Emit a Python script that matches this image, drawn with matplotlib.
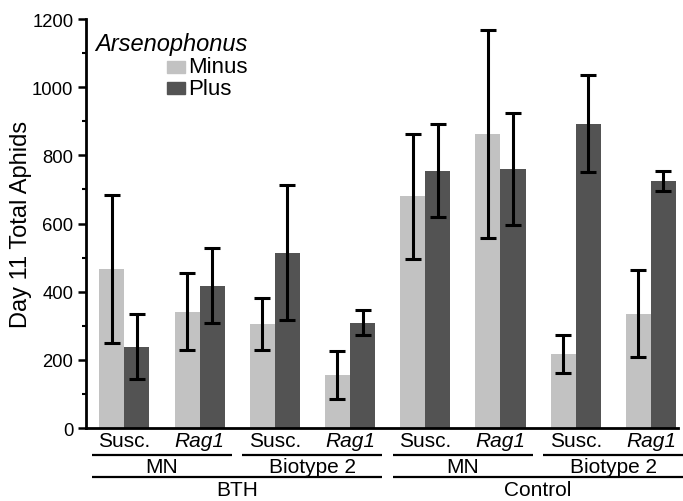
import numpy as np
import matplotlib
matplotlib.use("Agg")
import matplotlib.pyplot as plt
from matplotlib.patches import Rectangle
from matplotlib.ticker import MultipleLocator

# --- data: day-11 aphid counts (mean +/- SE) ---
genotypes = ["Susc.", "Rag1", "Susc.", "Rag1", "Susc.", "Rag1", "Susc.", "Rag1"]
biotypes = ["MN", "Biotype 2", "MN", "Biotype 2"]
treatments = ["BTH", "Control"]
series = ["Minus", "Plus"]
minus_mean = [467, 341, 305, 156, 680, 863, 216, 335]
minus_err = [217, 113, 77, 70, 184, 305, 56, 128]
plus_mean = [239, 418, 514, 309, 755, 761, 893, 724]
plus_err = [95, 110, 198, 37, 136, 164, 143, 30]

C_MINUS, C_PLUS = "#c2c2c2", "#535353"

plt.rcParams.update({"font.family": ["Liberation Sans", "DejaVu Sans"],
                     "font.size": 15})

fig = plt.figure(figsize=(6.83, 5.02), dpi=100)
ax = fig.add_axes([0.1259, 0.1454, 0.8668, 0.8147])

x = np.arange(len(genotypes))
w = 1 / 3
ebar = dict(ecolor="black", elinewidth=2.2, capsize=6, capthick=2.2)
ax.bar(x - w / 2, minus_mean, w, yerr=minus_err, color=C_MINUS,
       error_kw=ebar, zorder=2)
ax.bar(x + w / 2, plus_mean, w, yerr=plus_err, color=C_PLUS,
       error_kw=ebar, zorder=2)

ax.set_xlim(-0.51, 7.36)
ax.set_ylim(0, 1200)
ax.yaxis.set_major_locator(MultipleLocator(200))
ax.yaxis.set_minor_locator(MultipleLocator(100))
ax.tick_params(axis="y", which="major", length=6, width=1.8, labelsize=13.3, pad=3)
ax.tick_params(axis="y", which="minor", length=3, width=1.5)
ax.set_xticks([])
for s in ("top", "right"):
    ax.spines[s].set_visible(False)
for s in ("left", "bottom"):
    ax.spines[s].set_linewidth(2.0)
ax.set_ylabel("Day 11 Total Aphids", fontsize=17, labelpad=0)

# --- hierarchical category labels under the axis ---
tr = ax.get_xaxis_transform()
for i, g in enumerate(genotypes):
    ax.text(i, -0.031, g, transform=tr, ha="center", va="center", fontsize=15,
            style="italic" if g == "Rag1" else "normal")
for j, b in enumerate(biotypes):
    lo, hi = 2 * j - 0.43, 2 * j + 1 + 0.43
    ax.plot([lo, hi], [-0.066, -0.066], transform=tr, color="black", lw=1.6,
            clip_on=False, solid_capstyle="butt")
    ax.text(2 * j + 0.5, -0.0946, b, transform=tr, ha="center", va="center",
            fontsize=15)
for k, t in enumerate(treatments):
    lo, hi = 4 * k - 0.43, 4 * k + 3 + 0.43
    ax.plot([lo, hi], [-0.119, -0.119], transform=tr, color="black", lw=1.6,
            clip_on=False, solid_capstyle="butt")
    ax.text(4 * k + 1.5, -0.151, t, transform=tr, ha="center", va="center",
            fontsize=15)

# --- legend ---
ax.text(0.0152, 0.939, "Arsenophonus", transform=ax.transAxes, style="italic",
        ha="left", va="center", fontsize=17)
for name, col, yc in zip(series, [C_MINUS, C_PLUS], [0.883, 0.831]):
    ax.add_patch(Rectangle((0.136, yc - 0.015), 0.032, 0.030,
                           transform=ax.transAxes, color=col, clip_on=False))
    ax.text(0.172, yc, name, transform=ax.transAxes, ha="left", va="center",
            fontsize=16)

fig.savefig("out.png", dpi=100)
